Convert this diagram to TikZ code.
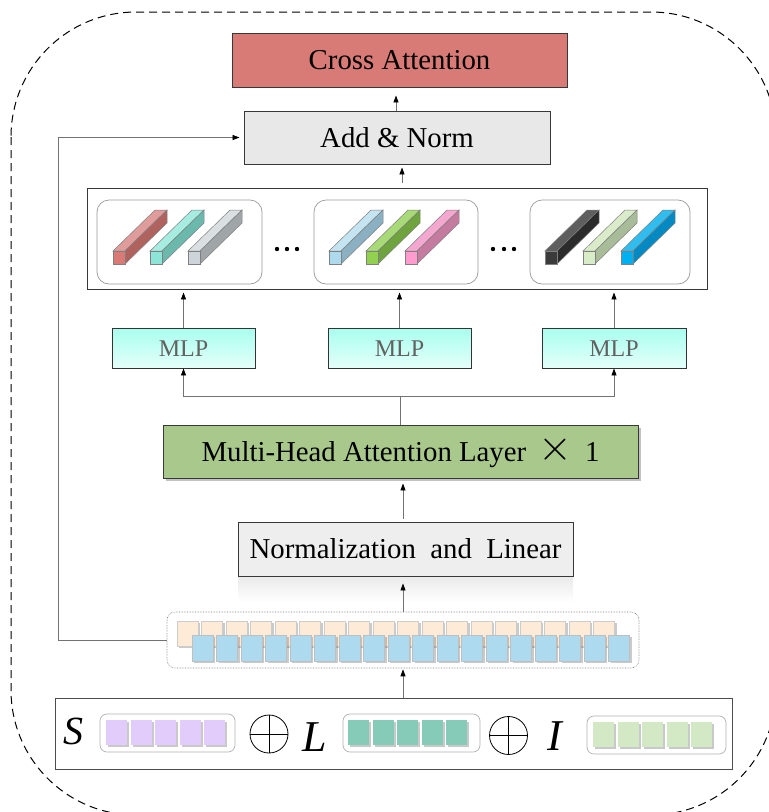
\documentclass[tikz,border=0pt]{standalone}
\usepackage{fontspec}
\setmainfont{Liberation Serif}
\usetikzlibrary{arrows.meta,shadows,calc}
\definecolor{crossred}{HTML}{D87B76}
\definecolor{anfill}{HTML}{E8E8E8}
\definecolor{mhagreen}{HTML}{A9C98C}
\definecolor{normfill}{HTML}{EEEEEE}
\definecolor{mlpA}{HTML}{A8FFEE}
\definecolor{mlpB}{HTML}{E4FFFA}
\definecolor{peach}{HTML}{FDEBD8}
\definecolor{tokblue}{HTML}{ADDAEE}
\definecolor{purp}{HTML}{E2CCFB}
\definecolor{tealsq}{HTML}{85CBB7}
\definecolor{lgreen}{HTML}{D3E9C5}
% bar colours: front / top / side
\definecolor{rF}{HTML}{D97B74}\definecolor{rT}{HTML}{E09C9A}\definecolor{rS}{HTML}{B0625E}
\definecolor{tF}{HTML}{8CE5D6}\definecolor{tT}{HTML}{A6ECE0}\definecolor{tS}{HTML}{6BB8AC}
\definecolor{gF}{HTML}{CDD5DB}\definecolor{gT}{HTML}{DADFE2}\definecolor{gS}{HTML}{A0A5A8}
\definecolor{lbF}{HTML}{AEDAEE}\definecolor{lbT}{HTML}{C4E4F2}\definecolor{lbS}{HTML}{8AB0C2}
\definecolor{gnF}{HTML}{92D050}\definecolor{gnT}{HTML}{A8DA78}\definecolor{gnS}{HTML}{6FA33E}
\definecolor{pkF}{HTML}{FF9BCF}\definecolor{pkT}{HTML}{F4A8CF}\definecolor{pkS}{HTML}{C57BA0}
\definecolor{bkF}{HTML}{3B3B3B}\definecolor{bkT}{HTML}{5E5E5E}\definecolor{bkS}{HTML}{2B2B2B}
\definecolor{lgF}{HTML}{D8ECC8}\definecolor{lgT}{HTML}{D9EBC9}\definecolor{lgS}{HTML}{A9BC99}
\definecolor{blF}{HTML}{00B0F0}\definecolor{blT}{HTML}{30BCEE}\definecolor{blS}{HTML}{0089C2}

\tikzset{
  pics/bar3d/.style n args={3}{code={
    \filldraw[fill=#2, draw=black!50, line width=0.5pt] (0,0) -- (12,0) -- (54,-41) -- (42,-41) -- cycle;
    \filldraw[fill=#3, draw=black!50, line width=0.5pt] (12,0) -- (12,13) -- (54,-28) -- (54,-41) -- cycle;
    \filldraw[fill=#1, draw=black!50, line width=0.5pt] (0,0) rectangle (12,13);
  }}
}

\begin{document}
\begin{tikzpicture}[x=1pt,y=-1pt,
  box/.style={draw=black!78, line width=0.9pt, inner sep=0pt, text height=19pt, text depth=0pt, font=\fontsize{28.8}{30}\selectfont},
  arr/.style={draw=black!55, line width=0.8pt, -{Triangle[length=7pt,width=5pt,color=black]}},
  ln/.style={draw=black!55, line width=0.8pt},
  grp/.style={draw=black!40, line width=0.7pt, rounded corners=12pt, inner sep=0pt, fill=white},
  sgrp/.style={draw=black!30, line width=0.7pt, rounded corners=7pt, inner sep=0pt, fill=white},
  mlpbox/.style={draw=black!80, line width=0.9pt, inner sep=0pt, minimum width=143pt, minimum height=40pt, shading angle=135, top color=mlpA, bottom color=mlpB, text=black!62, text height=16pt, text depth=0pt, font=\fontsize{24}{26}\selectfont},
  sq/.style={line width=0.4pt, drop shadow={shadow xshift=2pt, shadow yshift=-2pt, opacity=0.35, fill=black!60}},
  letter/.style={inner sep=0pt, font=\itshape},
  plus/.style={circle, draw=black, line width=0.8pt, minimum size=38pt, inner sep=0pt,
    path picture={\draw[line width=0.8pt] (path picture bounding box.north) -- (path picture bounding box.south)
      (path picture bounding box.west) -- (path picture bounding box.east);}},
]
\useasboundingbox (0,0) rectangle (769,812);

% outer dashed frame
\draw[line width=1pt, dash pattern=on 8pt off 5pt, rounded corners=125pt] (11,12) rectangle (776,815);

% top boxes
\node[box, fill=crossred, minimum width=335pt, minimum height=54pt] (cross) at (399.5,60) {Cross Attention};
\node[box, fill=anfill, minimum width=306pt, minimum height=53pt] (addnorm) at (397,137.5) {Add \& Norm};

% bars box
\node[draw=black!78, line width=0.9pt, minimum width=620pt, minimum height=101pt, inner sep=0pt] (bigbox) at (397,238.5) {};
\node[grp, minimum width=165pt, minimum height=84pt] (g1) at (179.5,242) {};
\node[grp, minimum width=164pt, minimum height=84pt] (g2) at (396,242) {};
\node[grp, minimum width=160pt, minimum height=84pt] (g3) at (610,242) {};

\pic at (113,251) {bar3d={rF}{rT}{rS}};
\pic at (150,251) {bar3d={tF}{tT}{tS}};
\pic at (188,251) {bar3d={gF}{gT}{gS}};
\pic at (329,251) {bar3d={lbF}{lbT}{lbS}};
\pic at (366,251) {bar3d={gnF}{gnT}{gnS}};
\pic at (405,251) {bar3d={pkF}{pkT}{pkS}};
\pic at (545,251) {bar3d={bkF}{bkT}{bkS}};
\pic at (583,251) {bar3d={lgF}{lgT}{lgS}};
\pic at (621,251) {bar3d={blF}{blT}{blS}};

\foreach \x in {277,287,297,493,504,514} \fill (\x,249) circle (2.2pt);

% MLPs
\node[mlpbox] (mlp1) at (183.5,348) {MLP};
\node[mlpbox] (mlp2) at (399.5,348) {MLP};
\node[mlpbox, minimum width=144pt] (mlp3) at (614,348) {MLP};

% Multi-head
\node[box, fill=mhagreen, minimum width=475pt, minimum height=53pt,
  drop shadow={shadow xshift=3pt, shadow yshift=-3pt, opacity=0.4, fill=black!60}] (mha) at (400.5,451.5)
  {Multi-Head Attention Layer\hspace{12pt}\raisebox{1pt}{\scalebox{1.75}{$\times$}}\hspace{13pt}1};

% Normalization with faint reflection
\fill[top color=black!8, bottom color=white] (238,577) rectangle (573,602);
\node[box, fill=normfill, minimum width=335pt, minimum height=54pt] (norm) at (405.5,549)
  {Normalization\ \ and\ \ Linear};

% token strip
\node[draw=black!55, line width=0.6pt, densely dotted, rounded corners=8pt, minimum width=472pt, minimum height=56pt, inner sep=0pt] (strip) at (403,640) {};
\foreach \i in {0,...,17} {
  \path[sq, fill=peach, draw=black!20] ({177+24.5*\i},621) rectangle ++(21,25);
}
\foreach \i in {0,...,17} {
  \path[sq, fill=tokblue, draw=black!25] ({192+24.5*\i},635) rectangle ++(21,26);
}

% input box
\node[draw=black!70, line width=1pt, fill=white, minimum width=677pt, minimum height=71pt, inner sep=0pt] (inputbox) at (393.5,733.5) {};
\node[sgrp, minimum width=135pt, minimum height=38pt] (gS) at (167.5,733) {};
\node[sgrp, minimum width=137pt, minimum height=38pt] (gL) at (411.5,733) {};
\node[sgrp, minimum width=139pt, minimum height=38pt] (gI) at (656.5,735) {};
\foreach \i in {0,...,4} {
  \path[sq, fill=purp] ({106+24.5*\i},720) rectangle ++(21,25);
  \path[sq, fill=tealsq] ({348+24.5*\i},720) rectangle ++(21,25);
  \path[sq, fill=lgreen] ({593+24.5*\i},722) rectangle ++(21,25);
}
\node[letter, font=\fontsize{40}{40}\selectfont\itshape] (lS) at (73,731) {S};
\node[plus] (op1) at (269,734) {};
\node[letter, font=\fontsize{44}{44}\selectfont\itshape] (lL) at (314.5,737.5) {L};
\node[plus] (op2) at (508.5,735.5) {};
\node[letter, font=\fontsize{44}{44}\selectfont\itshape] (lI) at (555,736.5) {I};

% connectors
\draw[arr, shorten >=8pt] ([xshift=-1pt]addnorm.north) -- ([xshift=-1pt]addnorm.north |- cross.south);
\draw[arr, shorten <=5pt, shorten >=3pt] ([xshift=5pt]bigbox.north) -- ([xshift=5pt]bigbox.north |- addnorm.south);
\draw[arr, shorten >=3pt] (mlp1.north) -- (mlp1.north |- bigbox.south);
\draw[arr, shorten >=3pt] (mlp2.north) -- (mlp2.north |- bigbox.south);
\draw[arr, shorten >=3pt] (mlp3.north) -- (mlp3.north |- bigbox.south);
\coordinate (split) at ($(mha.north)+(0,-28)$);
\draw[ln] (mha.north) -- (split);
\draw[arr] (split) -| (mlp1.south);
\draw[arr] (split) -| (mlp3.south);
\draw[arr, shorten <=3pt, shorten >=5pt] ([xshift=-2.5pt]norm.north) -- ([xshift=-2.5pt]norm.north |- mha.south);
\draw[arr, shorten >=7pt] (strip.north) -- (strip.north |- norm.south);
\draw[arr, shorten >=1pt] (inputbox.north -| strip.north) -- (strip.south);
\draw[arr, shorten >=4pt] (strip.west) -- ++(-108,0) |- (addnorm.west);
\end{tikzpicture}
\end{document}
